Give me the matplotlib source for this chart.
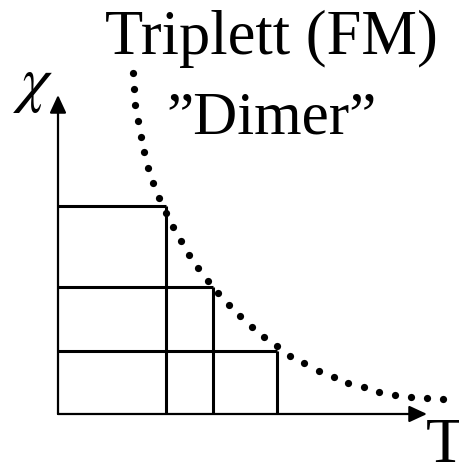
import matplotlib
matplotlib.use('Agg')
import matplotlib.pyplot as plt

# dotted chi(T) curve of the triplet dimer
curve_T = [2.04, 2.06, 2.09, 2.16, 2.24, 2.32, 2.45, 2.58, 2.75, 2.92,
           3.11, 3.32, 3.54, 3.79, 4.06, 4.33, 4.63, 4.92, 5.25, 5.59,
           5.94, 6.30, 6.67, 7.07, 7.47, 7.87, 8.28, 8.70, 9.12, 9.56,
           9.99, 10.43]
curve_chi = [10.68, 10.18, 9.69, 9.18, 8.69, 8.20, 7.72, 7.23, 6.76, 6.30,
             5.85, 5.41, 4.98, 4.57, 4.17, 3.78, 3.42, 3.06, 2.72, 2.41,
             2.12, 1.83, 1.59, 1.36, 1.16, 0.97, 0.84, 0.70, 0.61, 0.53,
             0.49, 0.48]

# the three (T, chi) boxes under the curve
box_T = [2.93, 4.20, 5.93]
box_chi = [6.52, 3.98, 1.97]

axis_len = 10

serif = 'Liberation Serif'

fig = plt.figure(figsize=(4.59, 4.65), dpi=100)
ax = fig.add_axes([0, 0, 1, 1])
ax.set_xlim(-1.572, 10.867)
ax.set_ylim(-1.599, 12.978)
ax.axis('off')

for t, c in zip(box_T, box_chi):
    ax.plot([0, t], [c, c], color='black', lw=2.2, solid_capstyle='butt')
    ax.plot([t, t], [0, c], color='black', lw=2.2, solid_capstyle='butt')

arrow = dict(arrowstyle='-|>,head_length=1.08,head_width=0.5', lw=1.6,
             color='black', mutation_scale=10, shrinkA=0, shrinkB=0)
ax.annotate('', xy=(axis_len, 0), xytext=(0, 0), arrowprops=arrow)
ax.annotate('', xy=(0, axis_len), xytext=(0, 0), arrowprops=arrow)

ax.plot(curve_T, curve_chi, 'o', color='black', ms=5.2, mew=0)

ax.text(1.27, 11.3, 'Triplett (FM)', family=serif, fontsize=45, va='baseline')
ax.text(2.95, 8.8, '\u201dDimer\u201d', family=serif, fontsize=44, va='baseline')
ax.text(9.98, -1.5, 'T', family=serif, fontsize=46, va='baseline')
ax.text(-1.22, 9.85, r'$\chi$', fontsize=46, va='baseline',
        math_fontfamily='stix')

fig.savefig('out.png', dpi=100)
